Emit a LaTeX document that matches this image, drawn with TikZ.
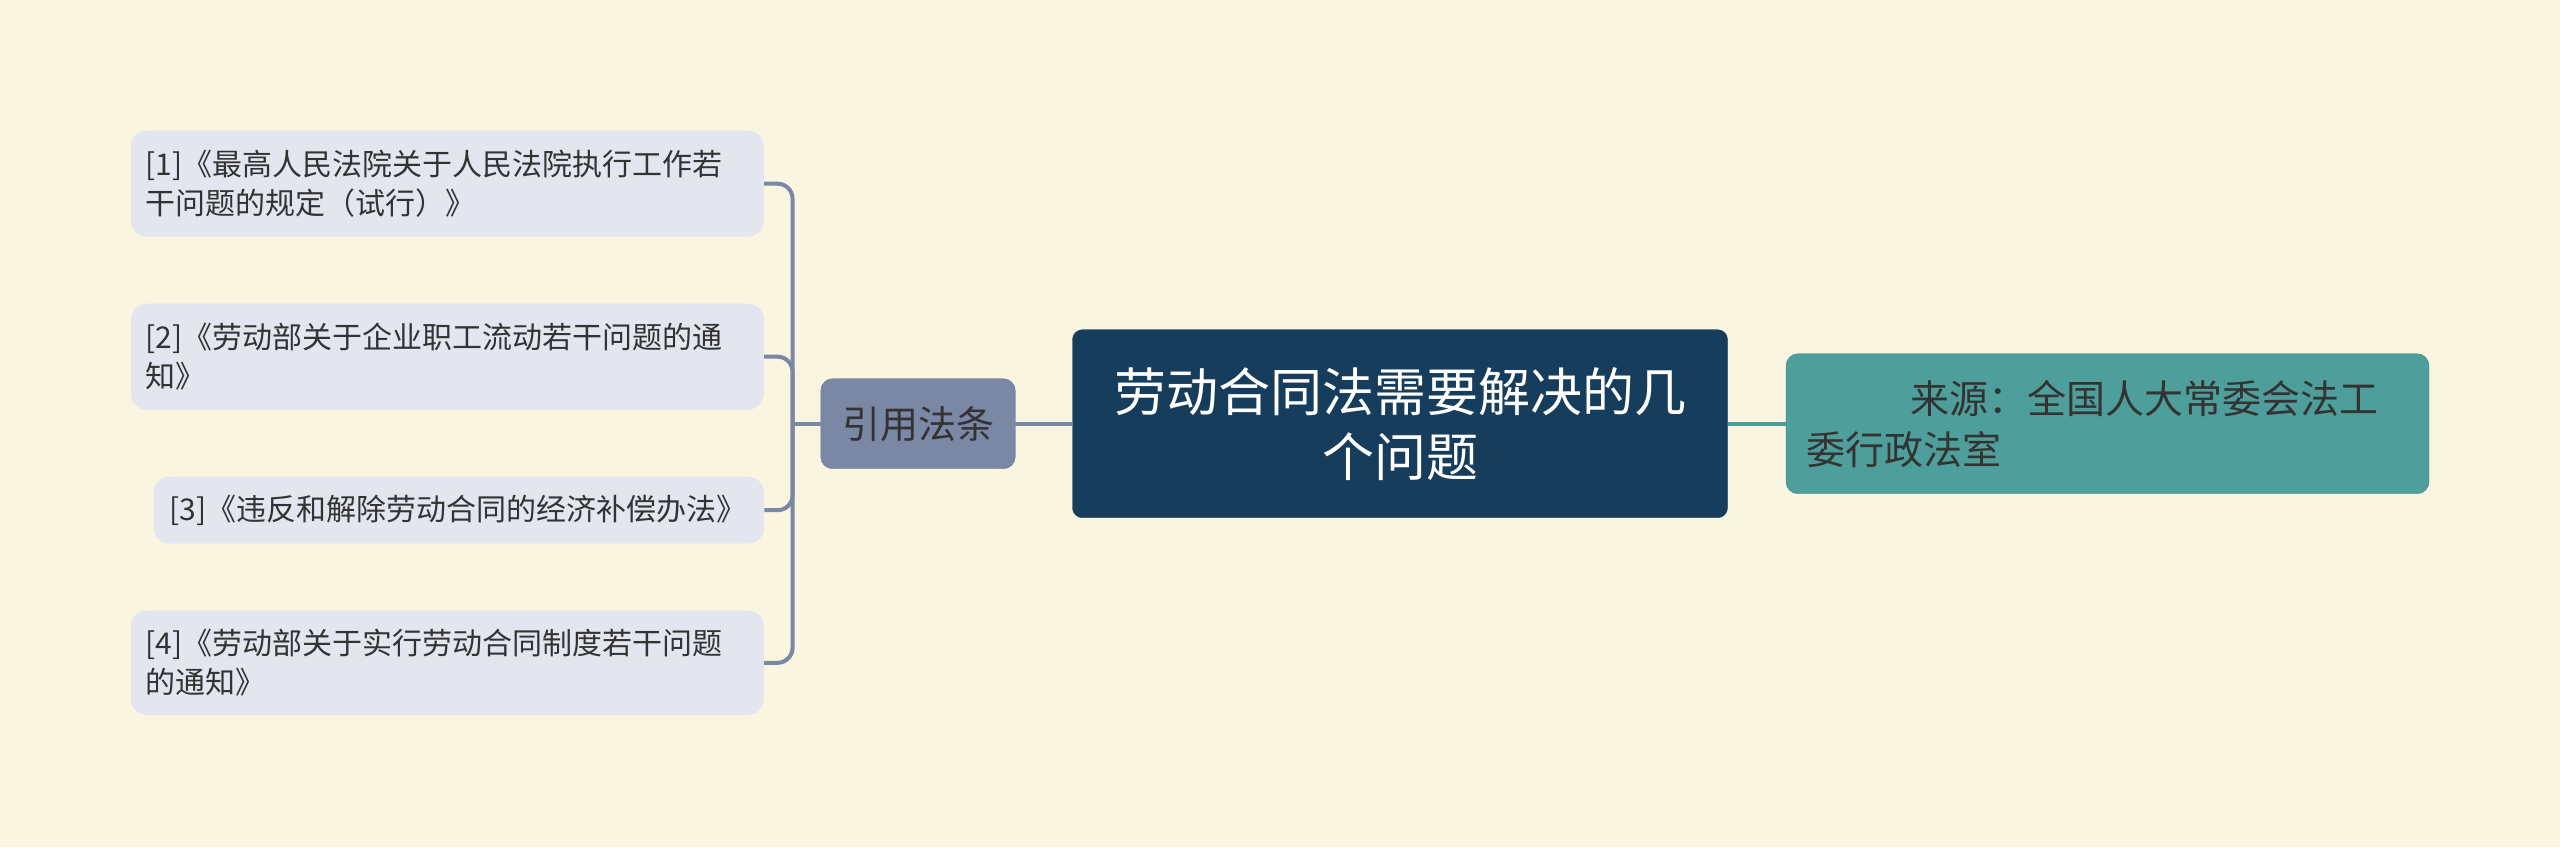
\documentclass[tikz,border=0pt]{standalone}
\usepackage{fontspec}
\setmainfont{Noto Sans CJK SC}
\usepackage{tikz}
\usetikzlibrary{positioning, calc}

\definecolor{bg}{HTML}{FAF5E0}
\definecolor{leaffill}{HTML}{E3E6EE}
\definecolor{reffill}{HTML}{7A87A5}
\definecolor{mainfill}{HTML}{173D5C}
\definecolor{srcfill}{HTML}{4E9E9B}
\definecolor{txt}{HTML}{333333}

\begin{document}
\begin{tikzpicture}[x=1pt, y=-1pt,
  leaf/.style={fill=leaffill, rounded corners=16pt, text=txt, align=left,
    font=\fontsize{30}{39}\selectfont, inner xsep=15pt, text width=603pt, minimum height=106pt},
  reflink/.style={draw=reffill, line width=4pt, rounded corners=15pt},
  srclink/.style={draw=srcfill, line width=4pt}]
\useasboundingbox [fill=bg] (0,0) rectangle (2560,847);

\coordinate (c) at (1400,423.7);
\node (main) [fill=mainfill, draw=mainfill!80!black, rounded corners=10pt, text=white, align=center,
  font=\fontsize{52}{65}\selectfont, inner xsep=0pt, text width=655pt, minimum height=188pt] at (c)
  {劳动合同法需要解决的几\\个问题};

\node (ref) [fill=reffill, draw=reffill!85!black, rounded corners=12pt, text=txt,
  font=\fontsize{38}{46}\selectfont, minimum width=194.5pt, minimum height=90pt] at ($ (c) - (482,0) $) {引用法条};

\node (src) [fill=srcfill, draw=srcfill!85!black, rounded corners=12pt, text=txt, align=left,
  font=\fontsize{39}{51}\selectfont, inner xsep=20pt, text width=603pt, minimum height=140pt] at ($ (c) + (707.5,0) $)
  {\hspace*{104pt}来源：全国人大常委会法工\\委行政法室};

\node (l1) [leaf] at (447.3,183.7) {[1]《最高人民法院关于人民法院执行工作若\\干问题的规定（试行）》};
\node (l2) [leaf] at (447.3,356.7) {[2]《劳动部关于企业职工流动若干问题的通\\知》};
\node (l3) [leaf, inner xsep=16pt, text width=578.5pt, minimum height=67pt] at (458.8,510.2) {[3]《违反和解除劳动合同的经济补偿办法》};
\node (l4) [leaf, minimum height=104.4pt] at (447.3,662.8) {[4]《劳动部关于实行劳动合同制度若干问题\\的通知》};

\draw [reflink] (main.west) -- (ref.east);
\draw [srclink] (main.east) -- (src.west);
\coordinate [left=28pt of ref.west] (hub);
\draw [reflink] (ref.west) -- (hub);
\foreach \k in {l1,l2,l3,l4}
  \draw [reflink] (hub) |- (\k.east);
\end{tikzpicture}
\end{document}
